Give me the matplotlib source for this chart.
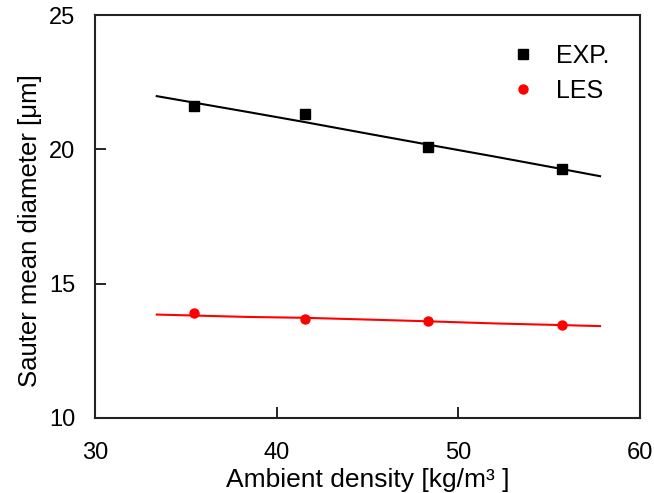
import matplotlib.pyplot as plt

plt.rcParams['font.family'] = ['Liberation Sans', 'DejaVu Sans']

# EXP. measurements and LES results
density = [35.45, 41.55, 48.35, 55.7]
smd_exp = [21.6, 21.3, 20.1, 19.25]
smd_les = [13.92, 13.7, 13.62, 13.47]

# fitted curves
fit_x = [33.4, 38.5, 41.5, 45.2, 48.3, 52.0, 55.6, 57.8]
fit_exp = [21.98, 21.38, 21.02, 20.56, 20.18, 19.73, 19.28, 19.0]
fit_les = [13.85, 13.76, 13.73, 13.66, 13.6, 13.52, 13.46, 13.42]

fig = plt.figure(figsize=(6.54, 4.93), dpi=100)
ax = fig.add_axes([95 / 654, 1 - 418 / 493, 545 / 654, 403 / 493])

ax.plot(fit_x, fit_exp, color='black', lw=1.5)
ax.plot(fit_x, fit_les, color='red', lw=1.5)
ax.plot(density, smd_exp, 's', color='black', markersize=7.5, ls='none', label='EXP.')
ax.plot(density, smd_les, 'o', color='red', markersize=6.5, ls='none', label='LES')

ax.set_xlim(30, 60)
ax.set_ylim(10, 25)
ax.set_xticks([30, 40, 50, 60])
ax.set_yticks([10, 15, 20, 25])
ax.tick_params(direction='in', length=8, width=1.2, labelsize=17,
               top=False, right=False, colors='black')
ax.tick_params(axis='x', pad=17)
ax.tick_params(axis='y', pad=14)
for s in ax.spines.values():
    s.set_linewidth(1.5)
    s.set_color('#222222')

ax.set_xlabel('Ambient density [kg/m³ ]', fontsize=19, labelpad=3)
ax.set_ylabel('Sauter mean diameter [μm]', fontsize=18.5)
ax.yaxis.set_label_coords(-0.097, 0.465)

ax.legend(loc='upper right', frameon=False, fontsize=18, handletextpad=0.3,
          borderaxespad=0.5, labelspacing=0.45, bbox_to_anchor=(0.985, 0.985))

fig.savefig('out.png', dpi=100)
